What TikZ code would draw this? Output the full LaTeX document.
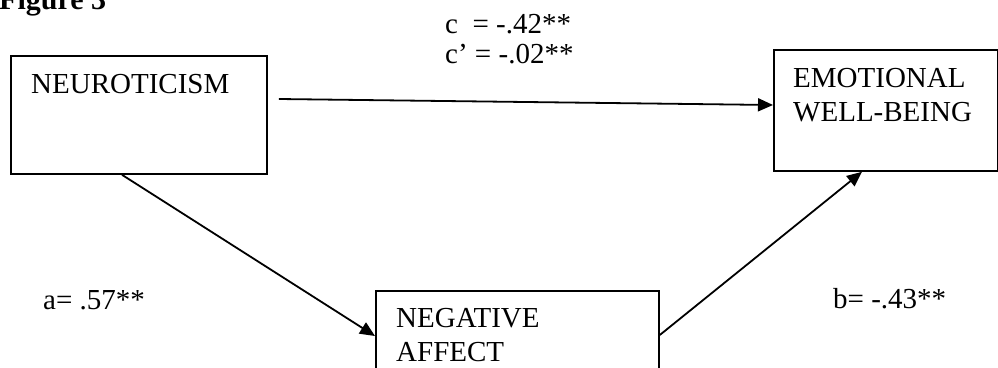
\documentclass[tikz,border=0pt]{standalone}
\usepackage{fontspec}
\setmainfont{Liberation Serif}
\usetikzlibrary{arrows.meta, positioning}

\tikzset{
  box/.style={draw, rectangle, line width=1.8pt, anchor=north west, inner sep=0pt},
  lbl/.style={anchor=base west, inner sep=0pt, align=left, font=\fontsize{29}{34}\selectfont},
  link/.style={line width=1.8pt, -{Triangle[length=15pt, width=13pt]}}
}

\begin{document}
\begin{tikzpicture}[x=1pt, y=-1pt]
        \useasboundingbox (0,0) rectangle (998,367);
        \clip (0,0) rectangle (998,367);

        \node[lbl, font=\fontsize{30}{34}\selectfont\bfseries] (fig) at (-1,9) {Figure 3};

        \node[box, minimum width=256pt, minimum height=118pt] (neuro)  at (10,55)  {};
        \node[box, minimum width=224pt, minimum height=121pt] (emo)    at (773,49) {};
        \node[box, minimum width=283pt, minimum height=110pt] (negaff) at (375,290) {};

        % base of a two-line label is its last line
        \node[lbl] (neurotxt)  at (31,93)   {NEUROTICISM};
        \node[lbl] (emotxt)    at (793,121) {EMOTIONAL\\WELL-BEING};
        \node[lbl] (negafftxt) at (396,361) {NEGATIVE\\AFFECT};

        \node[lbl] (ctot)  at (445,33)  {c\ \ = -.42**};
        \node[lbl] (cdir)  at (445,63)  {c’ = -.02**};
        \node[lbl] (apath) at (43,309)  {a= .57**};
        \node[lbl] (bpath) at (833,308) {b= -.43**};

        \draw[link] ([xshift=11pt, yshift=-44pt]neuro.north east) -- ([yshift=-56pt]emo.north west);
        \draw[link] ([xshift=112pt]neuro.south west) -- ([yshift=-46pt]negaff.north west);
        \draw[link] ([yshift=-45pt]negaff.north east) -- ([xshift=89pt]emo.south west);
\end{tikzpicture}
\end{document}
